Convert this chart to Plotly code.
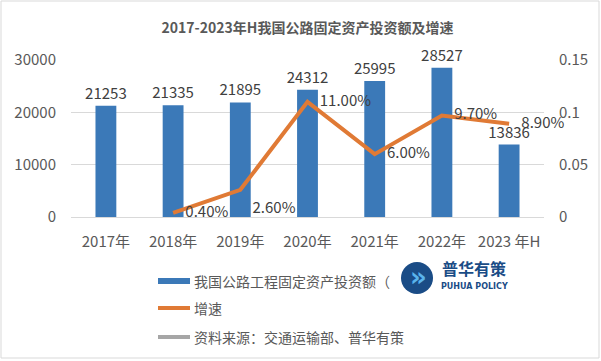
import plotly.graph_objects as go

categories = ["2017年", "2018年", "2019年", "2020年", "2021年", "2022年", "2023 年H"]
investment = [21253, 21335, 21895, 24312, 25995, 28527, 13836]
growth = [None, 0.004, 0.026, 0.11, 0.06, 0.097, 0.089]
growth_labels = ["", "0.40%", "2.60%", "11.00%", "6.00%", "9.70%", "8.90%"]
growth_pos = ["middle right", "middle right", "bottom right", "middle right", "middle right", "middle right", "middle right"]
left_ticks = [0, 10000, 20000, 30000]
right_ticks = [0, 0.05, 0.1, 0.15]

W, H = 601, 361
L, R, T, B = 71, 57, 60, 144
PW = W - L - R
PH = H - T - B

def px(x):
    return (x - L) / PW

def py(y):
    return (H - B - y) / PH

FONT = "Noto Sans CJK SC"
TXT = "#404040"
AX = "#595959"

fig = go.Figure()
fig.add_trace(go.Bar(
    x=categories, y=investment, name="我国公路工程固定资产投资额（亿元）",
    marker=dict(color="#3b79b8", line=dict(width=0)),
    width=0.31,
    text=[str(v) for v in investment], textposition="outside", constraintext="none",
    textfont=dict(size=15, color=TXT, family=FONT),
    cliponaxis=False, showlegend=False,
))
fig.add_trace(go.Scatter(
    x=categories, y=growth, name="增速", yaxis="y2", mode="lines+markers+text",
    line=dict(color="#e07a35", width=4),
    marker=dict(size=18, color="rgba(0,0,0,0)", line=dict(width=0)),
    text=growth_labels, textposition=growth_pos,
    textfont=dict(size=15, color=TXT, family=FONT),
    cliponaxis=False, showlegend=False,
))

shapes = []
annotations = []
legend_items = [
    (281, "#3b79b8", "rect", "我国公路工程固定资产投资额（"),
    (308, "#e07a35", "line", "增速"),
    (337, "#a6a6a6", "line", "资料来源：交通运输部、普华有策"),
]
for yy, col, kind, label in legend_items:
    if kind == "rect":
        shapes.append(dict(type="rect", xref="paper", yref="paper",
                           x0=px(158), x1=px(190), y0=py(284), y1=py(278),
                           fillcolor=col, line=dict(width=0)))
    else:
        shapes.append(dict(type="line", xref="paper", yref="paper",
                           x0=px(158), x1=px(190), y0=py(yy), y1=py(yy),
                           line=dict(color=col, width=4)))
    annotations.append(dict(xref="paper", yref="paper", x=px(192), y=py(yy),
                            xanchor="left", yanchor="middle", showarrow=False,
                            text=label, font=dict(size=14, color=AX, family=FONT)))
# logo
shapes.append(dict(type="circle", xref="paper", yref="paper",
                   x0=px(401), x1=px(433), y0=py(294), y1=py(262),
                   fillcolor="#1a4c86", line=dict(width=0)))
annotations.append(dict(xref="paper", yref="paper", x=px(418), y=py(277),
                        xanchor="center", yanchor="middle", showarrow=False,
                        text="<b>»</b>", font=dict(size=26, color="#5ab4ec", family="DejaVu Sans")))
annotations.append(dict(xref="paper", yref="paper", x=px(474), y=py(268),
                        xanchor="center", yanchor="middle", showarrow=False,
                        text="<b>普华有策</b>", font=dict(size=16, color="#1a4c86", family=FONT)))
annotations.append(dict(xref="paper", yref="paper", x=px(474), y=py(286),
                        xanchor="center", yanchor="middle", showarrow=False,
                        text="<b>PUHUA POLICY</b>", font=dict(size=8, color="#1a4c86", family="DejaVu Sans")))
# border
shapes.append(dict(type="rect", xref="paper", yref="paper",
                   x0=px(1), x1=px(599), y0=py(358), y1=py(1),
                   line=dict(color="#d9d9d9", width=1), fillcolor="rgba(0,0,0,0)", layer="below"))

fig.update_layout(
    width=W, height=H,
    margin=dict(l=L, r=R, t=T, b=B),
    paper_bgcolor="white", plot_bgcolor="white",
    title=dict(text="<b>2017-2023年H我国公路固定资产投资额及增速</b>",
               x=0.5, xref="paper", xanchor="center", y=(H - 28) / H, yanchor="middle",
               font=dict(size=14, color=AX, family=FONT)),
    font=dict(family=FONT, color=AX),
    xaxis=dict(type="category", showgrid=False, showline=False, ticks="",
               tickfont=dict(size=15, color=AX, family=FONT), ticklabelstandoff=14),
    yaxis=dict(range=[0, 30000], tickvals=left_ticks, tickformat="d",
               showgrid=True, gridcolor="#d9d9d9", gridwidth=1,
               zeroline=True, zerolinecolor="#d9d9d9", zerolinewidth=1,
               showline=False, ticks="", ticklabelstandoff=14,
               tickfont=dict(size=15, color=AX, family=FONT)),
    yaxis2=dict(range=[0, 0.15], tickvals=right_ticks, ticktext=["0", "0.05", "0.1", "0.15"],
                overlaying="y", side="right", showgrid=False, zeroline=False,
                showline=False, ticks="", ticklabelstandoff=14,
                tickfont=dict(size=15, color=AX, family=FONT)),
    shapes=shapes, annotations=annotations,
    showlegend=False, bargap=0.69,
)

fig.write_html("out.html", config={"displayModeBar": False},
               post_script="document.body.style.margin='0px';")
